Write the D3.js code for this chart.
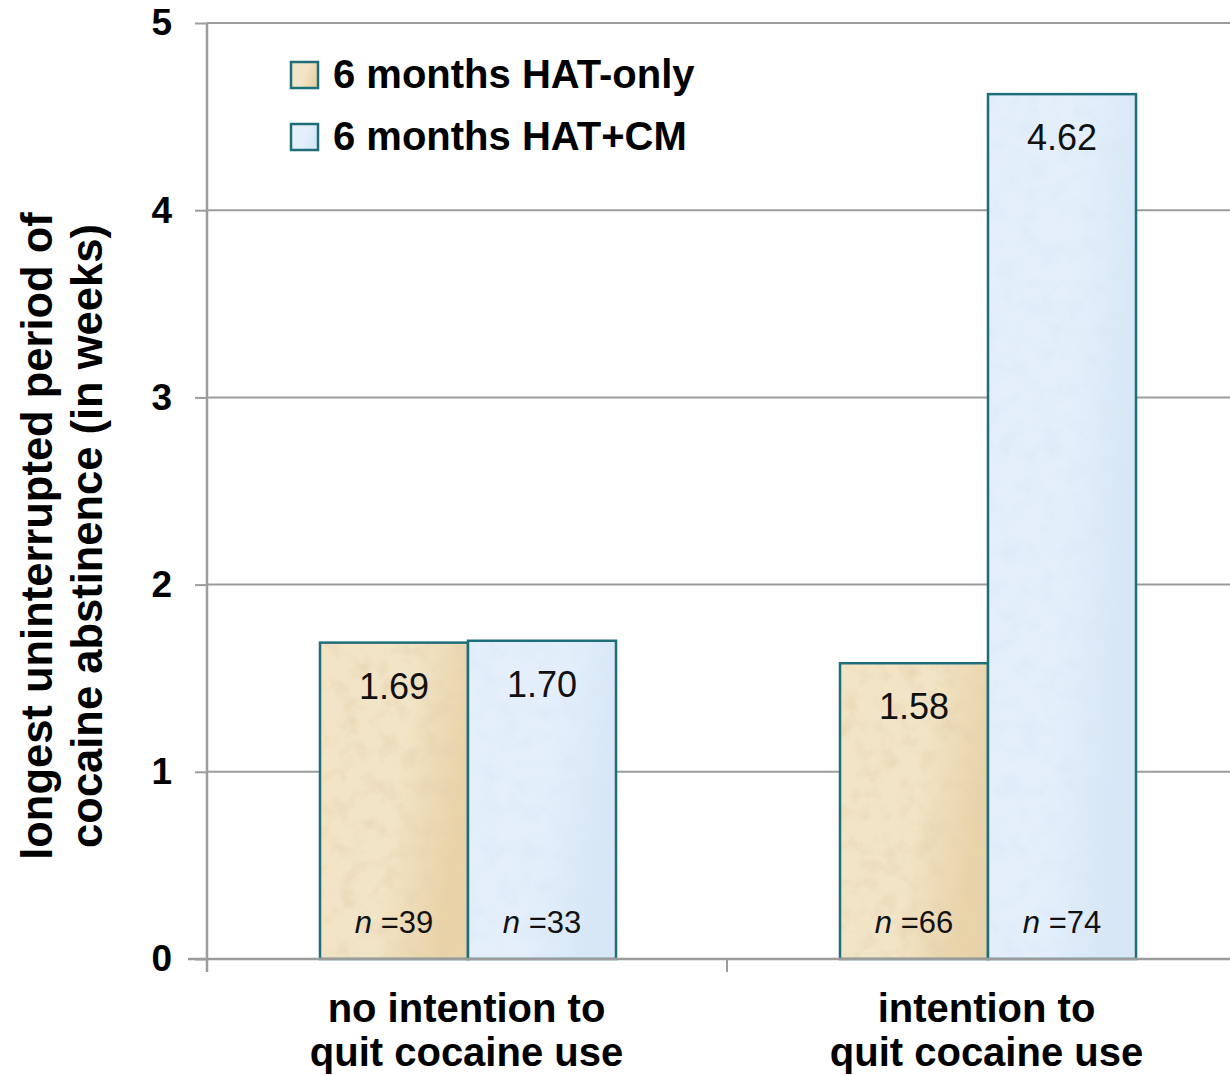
<!DOCTYPE html>
<html>
<head>
<meta charset="utf-8">
<script src="https://cdn.jsdelivr.net/npm/d3@7"></script>
<style>
  html, body { margin: 0; padding: 0; background: #fff; }
  svg { display: block; font-family: "Liberation Sans", Arial, sans-serif; }
</style>
</head>
<body>
<svg id="chart" width="1230" height="1075"></svg>
<script>
// Longest uninterrupted cocaine abstinence (weeks) by intention to quit
const categories = ["no intention to\nquit cocaine use", "intention to\nquit cocaine use"];
const seriesNames = ["6 months HAT-only", "6 months HAT+CM"];
const hatOnly = [1.69, 1.58];
const hatCM = [1.70, 4.62];
const nHatOnly = [39, 66];
const nHatCM = [33, 74];
const yTicks = [0, 1, 2, 3, 4, 5];

const seriesValues = [hatOnly, hatCM];
const seriesN = [nHatOnly, nHatCM];

const svg = d3.select("#chart");
const defs = svg.append("defs");

// Paper-like textures for the two bar fills
const textures = [
  { id: "tan", c0: "#f2e4c6", c1: "#e9d3a9", spot: [0.78, 0.64, 0.42] },
  { id: "blue", c0: "#e4effb", c1: "#d7e7f7", spot: [0.70, 0.80, 0.92] }
];
textures.forEach(t => {
  const g = defs.append("linearGradient").attr("id", t.id + "Grad")
    .attr("x1", 0).attr("y1", 0).attr("x2", 1).attr("y2", 0.3);
  g.append("stop").attr("offset", "0%").attr("stop-color", t.c0);
  g.append("stop").attr("offset", "60%").attr("stop-color", t.c0);
  g.append("stop").attr("offset", "100%").attr("stop-color", t.c1);

  const f = defs.append("filter").attr("id", t.id + "Tex")
    .attr("x", 0).attr("y", 0).attr("width", 1).attr("height", 1);
  f.append("feTurbulence").attr("type", "fractalNoise")
    .attr("baseFrequency", "0.05").attr("numOctaves", 4).attr("seed", 7).attr("result", "noise");
  f.append("feColorMatrix").attr("in", "noise").attr("type", "matrix")
    .attr("values", `0 0 0 0 ${t.spot[0]}  0 0 0 0 ${t.spot[1]}  0 0 0 0 ${t.spot[2]}  1.5 0 0 0 -0.7`)
    .attr("result", "spots");
  f.append("feComposite").attr("in", "spots").attr("in2", "SourceGraphic")
    .attr("operator", "in").attr("result", "clipped");
  const m = f.append("feMerge");
  m.append("feMergeNode").attr("in", "SourceGraphic");
  m.append("feMergeNode").attr("in", "clipped");
});

const plotLeft = 207, plotRight = 1247, plotTop = 23, plotBottom = 959;

const x0 = d3.scaleBand().domain(categories).range([plotLeft, plotRight]).paddingInner(0).paddingOuter(0);
const x1 = d3.scaleBand().domain(seriesNames).range([113, 409]).padding(0);
const y = d3.scaleLinear().domain([0, 5]).range([plotBottom, plotTop]);

const gridColor = "#9c9c9c";

// Horizontal gridlines
svg.append("g").selectAll("line").data(yTicks.filter(d => d > 0)).join("line")
  .attr("x1", plotLeft).attr("x2", 1230)
  .attr("y1", d => y(d)).attr("y2", d => y(d))
  .attr("stroke", gridColor).attr("stroke-width", 2);

// Y axis
const yAxis = svg.append("g").attr("transform", `translate(${plotLeft},0)`)
  .call(d3.axisLeft(y).tickValues(yTicks).tickFormat(d3.format("d")).tickSize(12).tickPadding(23));
yAxis.select(".domain").attr("stroke", gridColor).attr("stroke-width", 2.5)
  .attr("d", `M0,${plotTop}V${plotBottom + 13}`);
yAxis.selectAll(".tick line").attr("stroke", gridColor).attr("stroke-width", 2);
yAxis.selectAll(".tick text").attr("font-size", 37).attr("font-weight", "bold")
  .attr("fill", "#000").attr("font-family", "'Liberation Sans', Arial, sans-serif");

// Bars
const bars = [];
categories.forEach((c, ci) => {
  seriesNames.forEach((s, si) => {
    bars.push({ cat: c, series: si, value: seriesValues[si][ci], n: seriesN[si][ci] });
  });
});

const barG = svg.append("g");
const barSel = barG.selectAll("g.bar").data(bars).join("g").attr("class", "bar");
barSel.append("rect")
  .attr("x", d => x0(d.cat) + x1(seriesNames[d.series]))
  .attr("y", d => y(d.value))
  .attr("width", x1.bandwidth())
  .attr("height", d => y(0) - y(d.value))
  .attr("fill", d => `url(#${textures[d.series].id}Grad)`)
  .attr("filter", d => `url(#${textures[d.series].id}Tex)`);
barSel.append("rect")
  .attr("x", d => x0(d.cat) + x1(seriesNames[d.series]))
  .attr("y", d => y(d.value))
  .attr("width", x1.bandwidth())
  .attr("height", d => y(0) - y(d.value))
  .attr("fill", "none").attr("stroke", "#1d6e78").attr("stroke-width", 2.5);

// Value labels
barSel.append("text")
  .attr("x", d => x0(d.cat) + x1(seriesNames[d.series]) + x1.bandwidth() / 2)
  .attr("y", d => y(d.value) + 56)
  .attr("text-anchor", "middle").attr("font-size", 36).attr("fill", "#111")
  .text(d => d.value.toFixed(2));

// Sample-size labels
const nText = barSel.append("text")
  .attr("x", d => x0(d.cat) + x1(seriesNames[d.series]) + x1.bandwidth() / 2)
  .attr("y", 933)
  .attr("text-anchor", "middle").attr("font-size", 31).attr("fill", "#111");
nText.append("tspan").attr("font-style", "italic").text("n");
nText.append("tspan").text(d => " =" + d.n);

// X axis line and category boundary ticks
svg.append("line").attr("x1", 188).attr("x2", 1230)
  .attr("y1", plotBottom).attr("y2", plotBottom)
  .attr("stroke", gridColor).attr("stroke-width", 2.5);
svg.append("g").selectAll("line").data(categories.slice(1)).join("line")
  .attr("x1", d => x0(d)).attr("x2", d => x0(d))
  .attr("y1", plotBottom).attr("y2", plotBottom + 13)
  .attr("stroke", gridColor).attr("stroke-width", 2);

// Category labels
const catLab = svg.append("g").selectAll("text").data(categories).join("text")
  .attr("x", d => x0(d) + x0.bandwidth() / 2 - 0.5)
  .attr("y", 1022)
  .attr("text-anchor", "middle").attr("font-size", 40).attr("font-weight", "bold").attr("fill", "#000");
catLab.selectAll("tspan").data(d => d.split("\n")).join("tspan")
  .attr("x", function () { return d3.select(this.parentNode).attr("x"); })
  .attr("dy", (d, i) => i === 0 ? 0 : 44)
  .text(d => d);

// Y axis title
const yTitle = svg.append("text")
  .attr("transform", "translate(52,536) rotate(-90)")
  .attr("text-anchor", "middle").attr("font-size", 43.5).attr("font-weight", "bold").attr("fill", "#000");
yTitle.append("tspan").attr("x", 0).attr("y", 0).text("longest uninterrupted period of");
yTitle.append("tspan").attr("x", 0).attr("y", 50).text("cocaine abstinence (in weeks)");

// Legend
const legend = svg.append("g").selectAll("g").data(seriesNames).join("g")
  .attr("transform", (d, i) => `translate(291,${62 + i * 62})`);
legend.append("rect").attr("width", 27).attr("height", 26)
  .attr("fill", (d, i) => `url(#${textures[i].id}Grad)`)
  .attr("stroke", "#1d6e78").attr("stroke-width", 2.5);
legend.append("text").attr("x", 42).attr("y", 26)
  .attr("font-size", 40).attr("font-weight", "bold").attr("fill", "#000")
  .text(d => d);
</script>
</body>
</html>
